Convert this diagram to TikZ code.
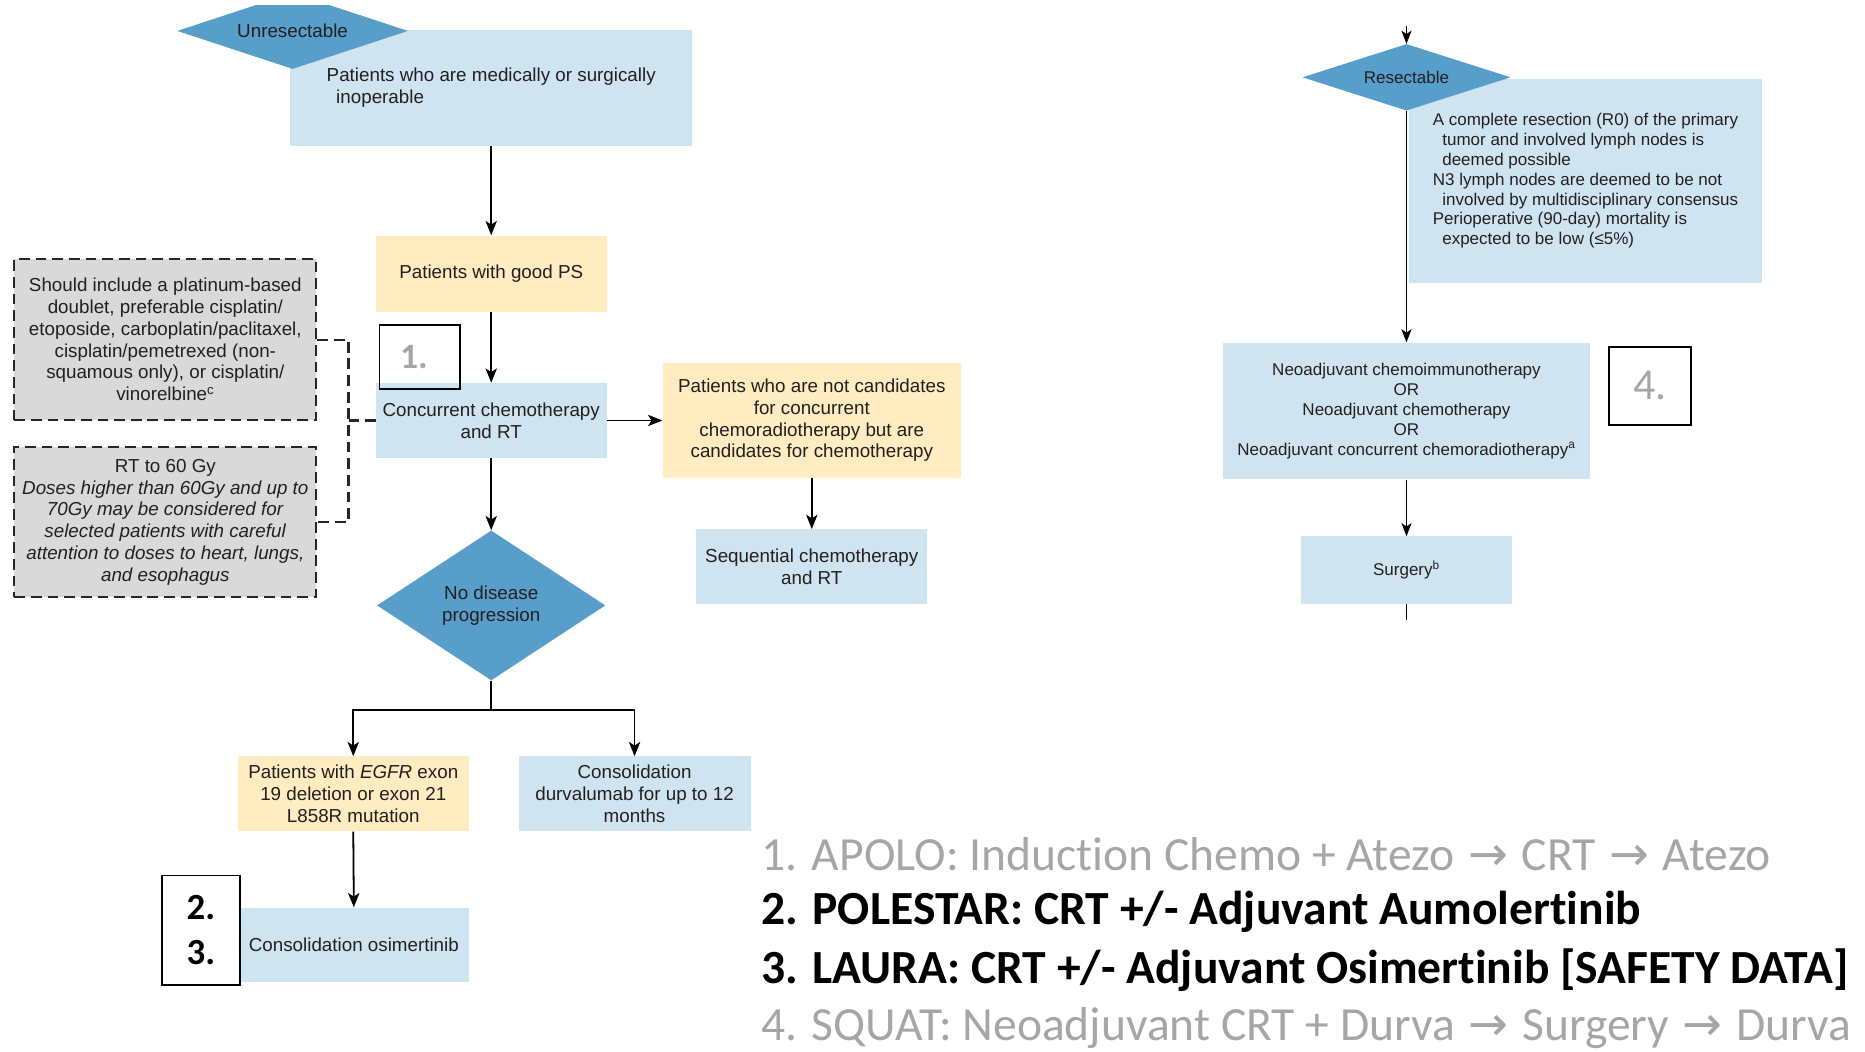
\documentclass[tikz,border=0pt]{standalone}
\usepackage{fontspec}
\setmainfont{Liberation Sans}
\newfontfamily\carl[Ligatures=NoCommon]{Carlito}
\newfontfamily\dvs{DejaVu Sans}
\usetikzlibrary{arrows.meta,shapes.geometric}
\definecolor{lblue}{RGB}{207,228,241}
\definecolor{lyel}{RGB}{255,236,193}
\definecolor{dblue}{RGB}{88,158,203}
\definecolor{lgrey}{RGB}{217,217,217}
\definecolor{tgrey}{RGB}{166,166,166}
\definecolor{ink}{RGB}{35,31,32}
\newcommand{\arw}{\hspace{2.5pt}{\dvs →}\hspace{2.5pt}}
\begin{document}
\begin{tikzpicture}[x=1pt,y=-1pt,
 box/.style={inner sep=0pt, align=center, font=\fontsize{15.8}{18.3}\selectfont, text=ink},
 bbox/.style={box, fill=lblue},
 ybox/.style={box, fill=lyel},
 rbox/.style={box, fill=lblue, font=\fontsize{14.3}{16.7}\selectfont},
 dia/.style={diamond, fill=dblue, inner sep=0pt, align=center, text=ink},
 gbox/.style={box, fill=lgrey, draw=black!85, line width=1.8pt, dash pattern=on 9pt off 5pt},
 arr/.style={draw=black, line width=1.5pt, -{Stealth[length=12pt,width=9.5pt,inset=3pt]}},
 arrs/.style={draw=black, line width=1.3pt, -{Stealth[length=11pt,width=8.5pt,inset=2.8pt]}},
 plain/.style={draw=black, line width=1.5pt},
 plains/.style={draw=black, line width=1.3pt},
 dconn/.style={draw=black!85, line width=1.8pt, dash pattern=on 9pt off 5pt},
 keybox/.style={draw=black, line width=1.5pt, inner sep=0pt},
 listtxt/.style={anchor=west, inner sep=0pt},
]
\useasboundingbox (0,0) rectangle (1568,884);

% ---------- left flow ----------
\node[bbox, minimum width=338pt, minimum height=97pt, align=left] (inop) at (413,74)
  {Patients who are medically or surgically\\\hspace*{8pt}inoperable};
\begin{scope}
  \clip (0,5) rectangle (1568,884);
  \node[dia, minimum width=194pt, minimum height=64pt, aspect=3, font=\fontsize{15.8}{18}\selectfont] (unres) at (246,26) {Unresectable};
\end{scope}

\node[ybox, minimum width=194pt, minimum height=64pt] (good) at (413,230) {Patients with good PS};
\node[bbox, minimum width=194pt, minimum height=63pt] (conc) at (413,353.5) {Concurrent chemotherapy\\and RT};
\node[ybox, minimum width=251pt, minimum height=97pt] (notc) at (682.5,353.5)
  {Patients who are not candidates\\for concurrent\\chemoradiotherapy but are\\candidates for chemotherapy};
\node[bbox, minimum width=194pt, minimum height=63pt] (seq) at (682.5,476.5) {Sequential chemotherapy\\and RT};
\node[dia, minimum width=192pt, minimum height=126pt, aspect=1.5, font=\fontsize{15.8}{18.3}\selectfont] (npd) at (413,509) {No disease\\progression};
\node[ybox, minimum width=194pt, minimum height=63pt] (egfr) at (297,667.5)
  {Patients with \textit{EGFR} exon\\19 deletion or exon 21\\L858R mutation};
\node[bbox, minimum width=195pt, minimum height=63pt] (durva) at (533.5,667.5)
  {Consolidation\\durvalumab for up to 12\\months};
\node[bbox, minimum width=193pt, minimum height=63pt] (osim) at (297.5,794.5) {Consolidation osimertinib};

\node[gbox, minimum width=254pt, minimum height=135pt] (g1) at (139,285.5)
  {Should include a platinum-based\\doublet, preferable cisplatin/\\etoposide, carboplatin/paclitaxel,\\cisplatin/pemetrexed (non-\\squamous only), or cisplatin/\\vinorelbine\textsuperscript{c}};
\node[gbox, minimum width=254pt, minimum height=126pt] (g2) at (139,439)
  {RT to 60 Gy\\\textit{Doses higher than 60Gy and up to}\\\textit{70Gy may be considered for}\\\textit{selected patients with careful}\\\textit{attention to doses to heart, lungs,}\\\textit{and esophagus}};

\node[keybox, minimum width=68pt, minimum height=54pt, text=tgrey, font=\carl\bfseries\fontsize{30}{30}\selectfont] (k1) at (353,300) {1.\hspace*{10pt}};
\node[keybox, minimum width=66pt, minimum height=92pt, align=left, font=\carl\bfseries\fontsize{31}{38}\selectfont] (k23) at (169,782) {2.\\3.};

% connectors
\draw[arr] (inop.south) -- (good.north);
\draw[arr] (good.south) -- (conc.north);
\draw[arr] (conc.east) -- (notc.west);
\draw[arr] (notc.south) -- (seq.north);
\draw[arr] (conc.south) -- (npd.north);
\draw[plain] (npd.south) -- ++(0,25) coordinate (br);
\draw[arr] (br) -| (egfr.north);
\draw[arr] (br) -| (durva.north);
\draw[arr] (egfr.south) -- (osim.north);
\coordinate (bx) at (293,353.5);
\draw[dconn] (g1.east) -| (bx) |- (g2.east);
\draw[dconn] (bx) -- (conc.west);

% ---------- right flow ----------
\node[rbox, minimum width=296pt, minimum height=172pt, align=left] (rcrit) at (1333,152)
  {A complete resection (R0) of the primary\\\hspace*{8pt}tumor and involved lymph nodes is\\\hspace*{8pt}deemed possible\\N3 lymph nodes are deemed to be not\\\hspace*{8pt}involved by multidisciplinary consensus\\Perioperative (90-day) mortality is\\\hspace*{8pt}expected to be low (≤5\%)};
\node[dia, minimum width=175pt, minimum height=56pt, aspect=3.1, font=\fontsize{14.3}{16}\selectfont] (resd) at (1182.5,65) {Resectable};
\coordinate (rtop) at (1182.5,22);
\draw[arrs] (rtop) -- (resd.north);
\node[rbox, minimum width=309pt, minimum height=115pt] (neo) at (1182.5,345.5)
  {Neoadjuvant chemoimmunotherapy\\OR\\Neoadjuvant chemotherapy\\OR\\Neoadjuvant concurrent chemoradiotherapy\textsuperscript{a}};
\draw[arrs] (resd.south) -- (neo.north);
\node[rbox, minimum width=178pt, minimum height=57pt] (surg) at (1182.5,479.5) {Surgery\textsuperscript{b}};
\draw[arrs] (neo.south) -- (surg.north);
\coordinate (sb) at (1182.5,521);
\draw[plains] (surg.south) -- (sb);
\node[keybox, minimum width=69pt, minimum height=65pt, text=tgrey, font=\carl\fontsize{37}{37}\selectfont] (k4) at (1387.5,324.5) {4.};

% ---------- trial list ----------
\node[listtxt, text=tgrey, font=\carl\fontsize{40}{48}\selectfont] (l1) at (640,718)
  {1. APOLO: Induction Chemo + Atezo \arw{} CRT \arw{} Atezo};
\node[listtxt, text=black, font=\carl\bfseries\fontsize{40}{48}\selectfont] (l2) at (640,767)
  {2. POLESTAR: CRT +/- Adjuvant Aumolertinib};
\node[listtxt, text=black, font=\carl\bfseries\fontsize{40}{48}\selectfont] (l3) at (640,816)
  {3. LAURA: CRT +/- Adjuvant Osimertinib [SAFETY DATA]};
\node[listtxt, text=tgrey, font=\carl\fontsize{40}{48}\selectfont] (l4) at (640,864)
  {4. SQUAT: Neoadjuvant CRT + Durva \arw{} Surgery \arw{} Durva};
\end{tikzpicture}
\end{document}
